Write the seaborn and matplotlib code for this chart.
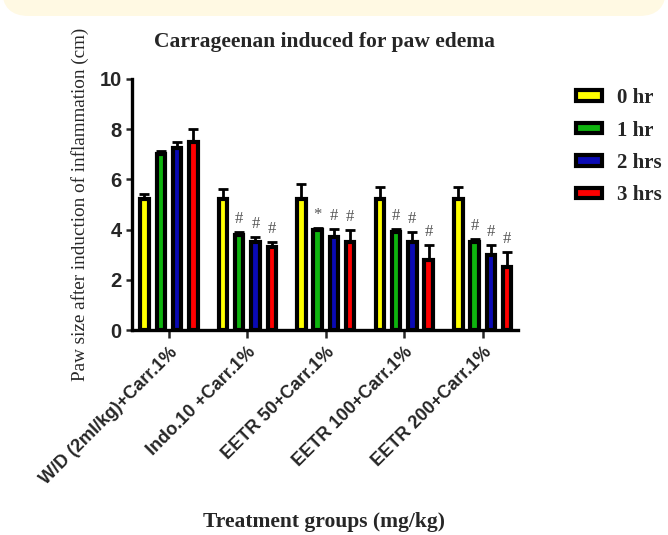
import numpy as np
import pandas as pd
import matplotlib
matplotlib.use("Agg")
import matplotlib.pyplot as plt
import seaborn as sns
from matplotlib.patches import FancyBboxPatch

# ---- data ----
groups = ["W/D (2ml/kg)+Carr.1%", "Indo.10 +Carr.1%", "EETR 50+Carr.1%",
          "EETR 100+Carr.1%", "EETR 200+Carr.1%"]
times = ["0 hr", "1 hr", "2 hrs", "3 hrs"]
mean_0hr = [5.2, 5.2, 5.2, 5.2, 5.2]
mean_1hr = [7.0, 3.8, 4.0, 3.9, 3.5]
mean_2hr = [7.25, 3.5, 3.7, 3.5, 3.0]
mean_3hr = [7.5, 3.3, 3.5, 2.8, 2.5]
err_0hr = [0.2, 0.4, 0.6, 0.5, 0.5]
err_1hr = [0.13, 0.12, 0.07, 0.12, 0.12]
err_2hr = [0.25, 0.22, 0.33, 0.4, 0.4]
err_3hr = [0.5, 0.22, 0.5, 0.6, 0.6]
mark_0hr = ["", "", "", "", ""]
mark_1hr = ["", "#", "*", "#", "#"]
mark_2hr = ["", "#", "#", "#", "#"]
mark_3hr = ["", "#", "#", "#", "#"]
colors = ["#FFFF00", "#0FB40F", "#0A0AB4", "#FF0000"]

means = [mean_0hr, mean_1hr, mean_2hr, mean_3hr]
errs = [err_0hr, err_1hr, err_2hr, err_3hr]
marks = [mark_0hr, mark_1hr, mark_2hr, mark_3hr]

rows = []
for t, m in zip(times, means):
    for g, v in zip(groups, m):
        rows.append({"group": g, "time": t, "value": v})
df = pd.DataFrame(rows)

sns.set_style("ticks")
serif = "Liberation Serif"
sans = "Liberation Sans"

W, H = 668, 535
fig = plt.figure(figsize=(W / 100, H / 100), dpi=100)

# top pale band
band = FancyBboxPatch((2 / W, (H - 16) / H), (W - 4) / W, 40 / H,
                      boxstyle="round,pad=0,rounding_size=0.04",
                      transform=fig.transFigure, facecolor="#FFF9E3",
                      edgecolor="none", mutation_aspect=W / H, zorder=0)
fig.patches.append(band)

ax = fig.add_axes([132 / W, 1 - 330 / H, (518 - 132) / W, (330 - 79) / H])
ax.patch.set_alpha(0)

sns.barplot(data=df, x="group", y="value", hue="time", order=groups,
            hue_order=times, palette=colors, width=0.83, gap=0.48,
            edgecolor="black", linewidth=3.0, errorbar=None, ax=ax,
            saturation=1)

for cont, e_list, m_list in zip(ax.containers, errs, marks):
    for bar, e, mk in zip(cont, e_list, m_list):
        xc = bar.get_x() + bar.get_width() / 2
        h = bar.get_height()
        ax.errorbar(xc, h, yerr=[[0], [e]], fmt="none", ecolor="black",
                    elinewidth=2.0, capsize=3.4, capthick=2.0, zorder=3)
        if mk:
            ax.annotate(mk, (xc, h + e), xytext=(0, 3.5),
                        textcoords="offset points", ha="center", va="bottom",
                        fontsize=12, color="#555555", family=serif)

ax.set_ylim(0, 10)
ax.set_xlim(-0.47, 4.45)
ax.set_yticks([0, 2, 4, 6, 8, 10])
ax.set_xlabel("")
ax.set_ylabel("")
sns.despine(ax=ax)
for s in ["left", "bottom"]:
    ax.spines[s].set_linewidth(2.4)
    ax.spines[s].set_color("black")

ax.tick_params(axis="y", length=4.5, width=1.8, labelsize=14.5, pad=3)
ax.tick_params(axis="x", length=6, width=1.8, labelsize=13, pad=4)
for lab in ax.get_yticklabels():
    lab.set_fontfamily(sans)
    lab.set_fontweight("bold")
ax.set_xticks(range(len(groups)))
ax.set_xticklabels(groups, rotation=45, ha="right", rotation_mode="anchor",
                   family=sans, fontweight="bold")

fig.text(325 / W, 1 - 42 / H, "Carrageenan induced for paw edema",
         ha="center", va="center", family=serif, fontweight="bold",
         fontsize=15.5)
fig.text(324 / W, 1 - 522 / H, "Treatment groups (mg/kg)",
         ha="center", va="center", family=serif, fontweight="bold",
         fontsize=15.5)
fig.text(80 / W, 1 - 204 / H, "Paw size after induction of inflammation (cm)",
         ha="center", va="center", rotation=90, family=serif, fontsize=13.8)

handles, labels = ax.get_legend_handles_labels()
if ax.get_legend() is not None:
    ax.get_legend().remove()
fig.legend(handles, labels, loc="upper left",
           bbox_to_anchor=(576 / W, 1 - 88 / H), frameon=False,
           prop={"family": serif, "weight": "bold", "size": 15},
           handlelength=1.25, handleheight=0.4, labelspacing=0.6,
           handletextpad=0.7, borderpad=0, borderaxespad=0)

fig.savefig("out.png", dpi=100, facecolor="white")
